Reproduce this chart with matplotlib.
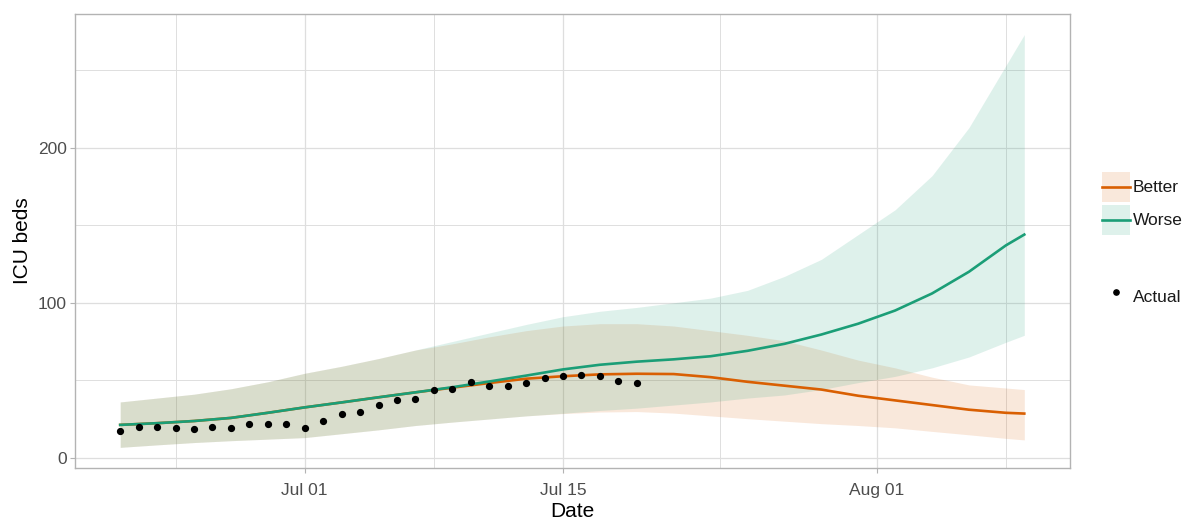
import matplotlib
matplotlib.use('Agg')
import matplotlib.pyplot as plt
import matplotlib.dates as mdates
from matplotlib.patches import Rectangle
from matplotlib.lines import Line2D
from matplotlib.legend_handler import HandlerBase
import pandas as pd

plt.rcParams['font.family'] = ['Liberation Sans', 'DejaVu Sans']

# ---------------- data ----------------
actual_dates = pd.date_range('2020-06-21', '2020-07-19', freq='D')
actual_values = [17.5, 20, 20, 19, 18.5, 20, 19.5, 22, 22, 21.5,
                 19.5, 24, 28.5, 29.5, 34, 37, 38, 43.5, 44.5, 49,
                 46, 46, 48, 51.5, 52.5, 53.5, 52.5, 49.5, 48.5]

proj_dates = pd.to_datetime([
    '2020-06-21', '2020-06-23', '2020-06-25', '2020-06-27', '2020-06-29',
    '2020-07-01', '2020-07-03', '2020-07-05', '2020-07-07', '2020-07-09',
    '2020-07-11', '2020-07-13', '2020-07-15', '2020-07-17', '2020-07-19',
    '2020-07-21', '2020-07-23', '2020-07-25', '2020-07-27', '2020-07-29',
    '2020-07-31', '2020-08-02', '2020-08-04', '2020-08-06', '2020-08-08',
    '2020-08-09'])

better_mid = [21.2, 22.3, 23.7, 25.7, 29, 32.5, 35.7, 39, 42.2, 45.2,
              48.2, 51, 52.6, 53.8, 54.2, 54, 52, 49, 46.5, 44,
              40, 37, 34, 31, 29, 28.5]
better_lo = [6.7, 8.3, 9.8, 11, 12, 13, 15.5, 18, 20.8, 23,
             25, 27, 28.5, 29.5, 29.8, 28.8, 27, 25.2, 23.6, 22,
             20.8, 19.3, 17, 14.8, 12.5, 11.5]
better_hi = [36, 38.5, 41, 44.5, 49, 54.5, 59, 64, 69.5, 73.5,
             78, 82, 85, 86.5, 86.5, 85, 82, 79, 75.5, 69.5,
             63, 58, 52, 47, 45, 44]

worse_mid = [21.2, 22.3, 23.7, 25.7, 29, 32.5, 35.7, 39, 42.2, 45.5,
             49.2, 53, 57, 60, 62, 63.5, 65.5, 69, 73.5, 79.5,
             86.5, 95, 106, 120, 137, 144]
worse_lo = [6.7, 8.3, 9.8, 11, 12, 13, 15.5, 18, 20.8, 23,
            25, 27, 28.7, 30.5, 32, 34, 36, 38.5, 40.5, 44,
            48.5, 52.5, 58, 65, 74.5, 79]
worse_hi = [36, 38.5, 41, 44.5, 49, 54.5, 59, 64, 69.5, 75,
            80.5, 86, 91, 94.5, 97, 100, 103, 108, 117, 128,
            144, 160, 182, 213, 253, 273]

series_names = ['Better', 'Worse']
actual_name = 'Actual'
major_tick_dates = pd.to_datetime(['2020-07-01', '2020-07-15', '2020-08-01'])
minor_tick_dates = pd.to_datetime(['2020-06-24 00:00', '2020-07-08 00:00', '2020-07-23 12:00', '2020-08-08 00:00'],
                                  format='%Y-%m-%d %H:%M')
y_major = [0, 100, 200]
y_minor = [50, 150, 250]

# ---------------- style ----------------
C_BETTER = '#D95F02'
C_WORSE = '#1B9E77'
RIB_ALPHA = 0.14
GRID = '#DEDEDE'
BORDER = '#B3B3B3'
LW = 1.9

W, H = 1185, 520
fig = plt.figure(figsize=(W / 100, H / 100), dpi=100)
ax = fig.add_axes([75 / W, 1 - 468 / H, (1069.5 - 75) / W, (468 - 14) / H])

ax.fill_between(proj_dates, better_lo, better_hi, color=C_BETTER, alpha=RIB_ALPHA, lw=0, zorder=2)
ax.fill_between(proj_dates, worse_lo, worse_hi, color=C_WORSE, alpha=RIB_ALPHA, lw=0, zorder=2)
l_better, = ax.plot(proj_dates, better_mid, color=C_BETTER, lw=LW, zorder=3)
l_worse, = ax.plot(proj_dates, worse_mid, color=C_WORSE, lw=LW, zorder=3)
ax.plot(actual_dates, actual_values, 'o', color='black', markersize=4.2, zorder=4)

ax.set_xticks(major_tick_dates)
ax.set_xticks(minor_tick_dates, minor=True)
ax.xaxis.set_major_formatter(mdates.DateFormatter('%b %d'))
ax.set_yticks(y_major)
ax.set_yticks(y_minor, minor=True)

# limits with ggplot-like 5% expansion (set after ticks)
x0 = min(proj_dates.min(), actual_dates.min())
x1 = max(proj_dates.max(), actual_dates.max())
span = x1 - x0
ax.set_xlim(x0 - 0.05 * span, x1 + 0.05 * span)
ymin = min(min(better_lo), min(worse_lo), min(actual_values))
ymax = max(max(better_hi), max(worse_hi), max(actual_values))
yspan = ymax - ymin
ax.set_ylim(ymin - 0.05 * yspan, ymax + 0.05 * yspan)

ax.grid(True, which='major', color=GRID, lw=0.9, zorder=0)
ax.grid(True, which='minor', color=GRID, lw=0.7, zorder=0)
ax.set_axisbelow(True)

for s in ax.spines.values():
    s.set_color(BORDER)
    s.set_linewidth(1.0)

ax.tick_params(which='major', length=3.6, width=0.8, color=BORDER,
               labelsize=12.5, labelcolor='#4D4D4D', pad=2.2)
ax.tick_params(which='minor', length=0)
ax.tick_params(axis='x', which='major', pad=7.5)

ax.set_xlabel('Date', fontsize=15, color='black', labelpad=2.5)
ax.set_ylabel('ICU beds', fontsize=15, color='black', labelpad=4)


# ---------------- legends ----------------
class RibbonKey(HandlerBase):
    """ggplot-like key: filled square with a line through its middle."""
    def create_artists(self, legend, orig_handle, xdescent, ydescent,
                       width, height, fontsize, trans):
        color = orig_handle.get_color()
        rect = Rectangle((-xdescent, -ydescent), width, height,
                         facecolor=color, alpha=RIB_ALPHA, edgecolor='none', transform=trans)
        yc = -ydescent + height / 2
        line = Line2D([-xdescent, -xdescent + width], [yc, yc], color=color,
                      lw=LW, transform=trans)
        return [rect, line]


leg1 = fig.legend([l_better, l_worse], series_names, loc='upper left',
                  bbox_to_anchor=(1101.7 / W, 1 - 171.7 / H), frameon=False,
                  borderpad=0, borderaxespad=0, handlelength=1.63, handleheight=2.28,
                  labelspacing=0.19, handletextpad=0.15, fontsize=12.5,
                  handler_map={l_better: RibbonKey(), l_worse: RibbonKey()})
leg2 = fig.legend([Line2D([], [], marker='o', color='black', linestyle='none', markersize=3.8)],
                  [actual_name], loc='center left',
                  bbox_to_anchor=(1101.7 / W, 1 - 296.7 / H), frameon=False,
                  borderpad=0, borderaxespad=0, handlelength=1.63, handleheight=2.28,
                  handletextpad=0.15, fontsize=12.5)
for t in leg1.get_texts() + leg2.get_texts():
    t.set_color('#1A1A1A')

fig.savefig('out.png', dpi=100)
